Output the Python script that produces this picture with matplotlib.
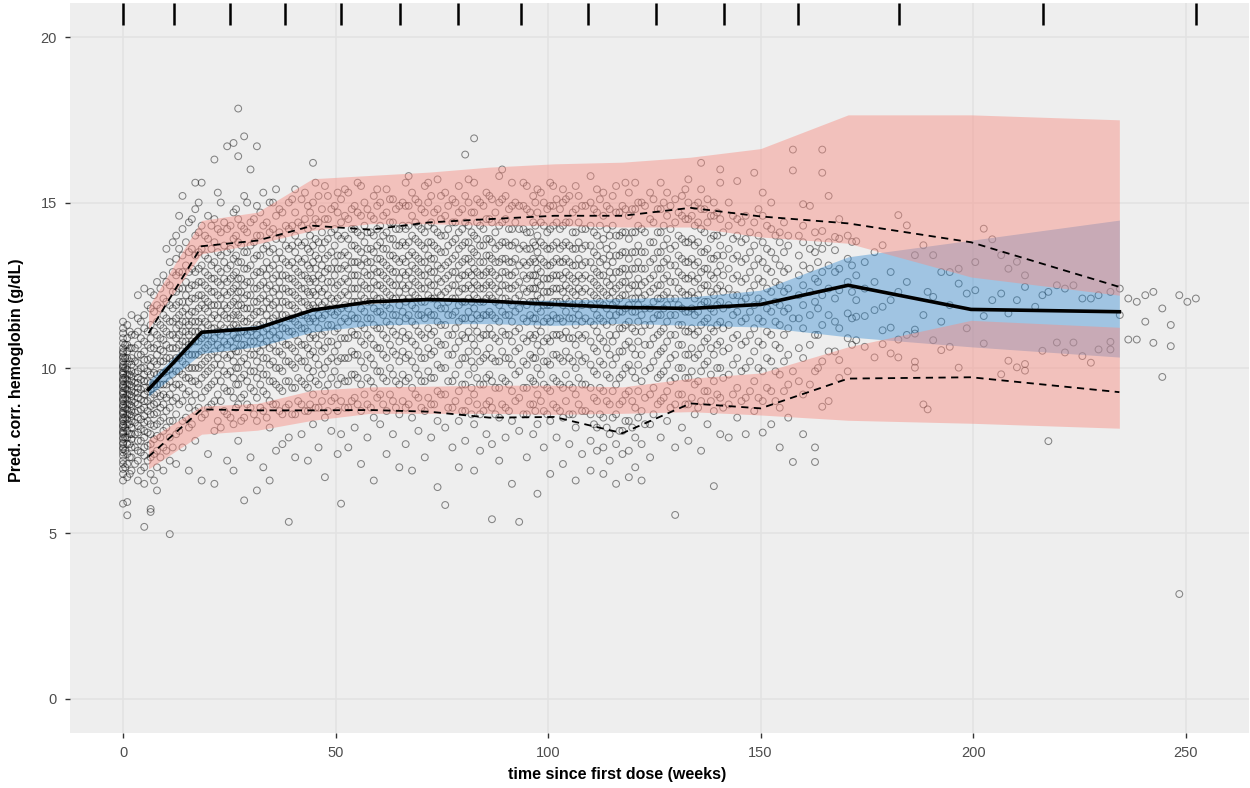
import numpy as np
import matplotlib.pyplot as plt
from matplotlib.transforms import blended_transform_factory

plt.rcParams['font.family'] = ['Liberation Sans', 'DejaVu Sans']

# bin boundaries (drawn as rug at the top) and bin centres
bin_edges = [0, 11.9, 25.1, 38.1, 51.2, 65.2, 78.9, 93.6, 109.4, 125.5,
             141.5, 158.7, 182.5, 216.5, 252.4]
bin_mid = [6.0, 18.5, 31.6, 44.6, 58.2, 72.0, 86.2, 101.5, 117.5, 133.5,
           150.0, 170.6, 199.5, 234.4]

# observed percentiles
obs_median = [9.35, 11.08, 11.2, 11.75, 12.0, 12.07, 12.02, 11.92, 11.83, 11.8,
              11.92, 12.5, 11.77, 11.7]
obs_p95 = [11.05, 13.68, 13.85, 14.3, 14.18, 14.4, 14.5, 14.6, 14.6, 14.84,
           14.58, 14.37, 13.8, 12.45]
obs_p5 = [7.32, 8.75, 8.72, 8.72, 8.73, 8.68, 8.5, 8.52, 8.03, 8.93,
          8.78, 9.68, 9.72, 9.27]

# simulated prediction intervals (CI of percentiles)
sim_p95_lo = [11.19, 13.45, 13.75, 14.16, 14.36, 14.36, 14.31, 14.31, 14.26, 14.26,
              13.96, 13.77, 12.75, 12.2]
sim_p95_hi = [11.85, 14.46, 14.71, 15.72, 15.82, 15.92, 16.07, 16.17, 16.22, 16.37,
              16.63, 17.65, 17.65, 17.5]
sim_med_lo = [9.15, 10.44, 10.64, 11.09, 11.29, 11.34, 11.34, 11.29, 11.35, 11.29,
              11.24, 10.94, 10.64, 10.33]
sim_med_hi = [9.6, 11.14, 11.29, 11.8, 11.94, 12.05, 12.05, 12.05, 12.1, 12.15,
              12.35, 13.36, 13.86, 14.47]
sim_p5_lo = [6.95, 8.0, 8.12, 8.42, 8.63, 8.63, 8.63, 8.6, 8.63, 8.68,
             8.58, 8.42, 8.33, 8.18]
sim_p5_hi = [7.85, 8.85, 8.93, 9.33, 9.43, 9.45, 9.48, 9.48, 9.43, 9.69,
             9.85, 10.64, 11.44, 11.23]

# observations: time (weeks) | hemoglobin values
obs_text = """
0.0 | 5.9 6.6 6.8 6.95 7.1 7.2 7.35 7.45 7.55 7.6 7.7 7.75 7.85 7.9 8.0 8.05 8.1 8.2 8.25 8.3 8.4 8.45 8.5 8.6 8.65 8.7 8.8 8.85 8.9 9.0 9.05 9.1 9.2 9.25 9.3 9.4 9.45 9.5 9.6 9.65 9.7 9.8 9.85 9.9 10.0 10.05 10.1 10.2 10.3 10.35 10.45 10.5 10.6 10.75 10.9 11.05 11.2 11.4
1.0 | 5.55 5.95 6.7 7.1 7.4 7.7 7.9 8.1 8.3 8.45 8.6 8.75 8.9 9.05 9.2 9.35 9.5 9.65 9.8 9.95 10.1 10.3 10.5 10.7 10.9 11.3
2.0 | 6.9 7.3 7.6 7.85 8.0 8.2 8.4 8.55 8.7 8.85 9.0 9.15 9.3 9.45 9.6 9.75 9.9 10.1 10.3 10.6 11.0 11.6
3.5 | 6.6 7.2 7.5 7.8 8.05 8.25 8.5 8.7 8.9 9.1 9.25 9.4 9.55 9.7 9.9 10.15 10.4 10.7 11.1 11.5 12.2
5.0 | 5.2 6.5 7.0 7.35 7.6 7.9 8.1 8.35 8.55 8.8 9.0 9.2 9.4 9.6 9.8 10.0 10.25 10.5 10.8 11.2 11.6 12.4
6.5 | 5.65 5.74 6.8 7.3 7.7 8.0 8.3 8.6 8.85 9.1 9.35 9.55 9.8 10.05 10.3 10.6 10.9 11.3 11.8 12.3
8.0 | 6.3 7.0 7.5 7.95 8.3 8.65 8.95 9.25 9.5 9.8 10.1 10.4 10.7 11.0 11.4 11.9 12.6
9.5 | 6.9 7.6 8.1 8.5 8.9 9.2 9.5 9.85 10.2 10.5 10.85 11.2 11.6 12.1 12.8
11.0 | 4.98 7.2 7.9 8.4 8.8 9.2 9.6 9.95 10.3 10.6 11.0 11.4 11.9 12.5 13.2
12.5 | 7.1 8.0 8.6 9.1 9.5 9.9 10.3 10.6 10.9 11.2 11.5 11.9 12.3 12.8 13.3 14.0
14.0 | 7.6 8.4 9.0 9.4 9.8 10.2 10.5 10.8 11.1 11.4 11.7 12.0 12.4 12.9 13.4 14.2 15.2
15.5 | 6.9 8.2 8.8 9.3 9.7 10.0 10.4 10.7 11.0 11.3 11.6 12.0 12.4 12.9 13.5 14.4
17.0 | 7.8 8.7 9.2 9.6 10.0 10.4 10.8 11.1 11.4 11.7 12.1 12.5 12.9 13.4 14.0 14.8 15.6
18.5 | 6.6 8.5 9.1 9.7 10.1 10.5 10.9 11.2 11.5 11.9 12.2 12.6 13.1 13.6 14.3 15.6
20.0 | 7.4 8.8 9.4 9.9 10.3 10.7 11.0 11.3 11.7 12.0 12.4 12.8 13.3 13.9 14.6
21.5 | 6.5 8.1 9.0 9.6 10.1 10.5 10.9 11.2 11.6 11.9 12.3 12.7 13.2 13.8 14.5 16.3
23.0 | 8.2 9.0 9.6 10.1 10.6 11.0 11.3 11.7 12.1 12.5 12.9 13.4 14.1 15.0
24.5 | 7.2 8.6 9.3 9.8 10.3 10.7 11.1 11.5 11.8 12.2 12.6 13.0 13.5 14.2 16.7
26.0 | 6.9 8.3 9.1 9.7 10.2 10.6 11.0 11.3 11.6 12.0 12.4 12.8 13.3 13.9 14.7 16.8
27.1 | 7.8 8.9 9.5 10.0 10.5 10.9 11.2 11.6 11.9 12.3 12.7 13.2 13.8 14.5 17.84 16.4
28.5 | 6.0 8.5 9.2 9.8 10.3 10.7 11.1 11.4 11.8 12.1 12.5 13.0 13.5 14.2 15.2 17.0
30.0 | 7.3 8.8 9.4 9.9 10.4 10.8 11.1 11.5 11.8 12.2 12.6 13.1 13.7 14.4 16.0
31.5 | 6.3 8.4 9.1 9.7 10.2 10.6 11.0 11.3 11.7 12.0 12.4 12.9 13.4 14.0 14.9 16.7
33.0 | 7.0 8.7 9.3 9.8 10.3 10.7 11.1 11.4 11.8 12.2 12.6 13.0 13.6 14.3 15.3
34.5 | 6.6 8.2 9.0 9.6 10.1 10.6 11.0 11.4 11.8 12.1 12.5 13.0 13.5 14.1 15.0
36.0 | 7.5 8.9 9.5 10.0 10.5 10.9 11.3 11.6 12.0 12.4 12.8 13.3 13.9 14.6 15.4
37.5 | 7.7 8.6 9.3 9.9 10.4 10.8 11.2 11.6 12.0 12.4 12.8 13.3 13.9 14.7
39.0 | 5.35 7.9 8.9 9.6 10.2 10.7 11.1 11.5 11.9 12.3 12.7 13.1 13.6 14.2 15.0
40.5 | 7.3 8.6 9.4 10.0 10.5 11.0 11.4 11.8 12.2 12.6 13.0 13.5 14.0 14.7 15.4
42.0 | 8.0 8.9 9.6 10.2 10.7 11.2 11.6 12.0 12.4 12.8 13.2 13.7 14.3 15.1
43.5 | 7.2 8.7 9.4 10.0 10.6 11.1 11.5 11.9 12.3 12.7 13.1 13.6 14.2 14.9
44.7 | 8.3 9.2 9.9 10.5 11.0 11.5 11.9 12.3 12.7 13.2 13.7 14.3 15.0 16.2
46.0 | 7.6 8.8 9.5 10.1 10.7 11.2 11.6 12.0 12.4 12.8 13.3 13.8 14.4 15.2
47.5 | 6.7 8.5 9.3 10.0 10.6 11.1 11.6 12.0 12.4 12.9 13.3 13.8 14.5 15.5
49.0 | 8.1 9.0 9.7 10.3 10.8 11.3 11.7 12.1 12.6 13.0 13.5 14.1 14.8
50.5 | 7.4 8.7 9.5 10.2 10.7 11.2 11.7 12.1 12.5 13.0 13.4 14.0 14.7 15.3
51.3 | 5.9 8.0 9.0 9.7 10.3 10.9 11.4 11.8 12.2 12.6 13.0 13.4 13.9 14.4 15.1
53.0 | 7.6 8.8 9.6 10.3 10.9 11.4 11.8 12.2 12.6 13.0 13.4 13.9 14.5 15.3
54.5 | 8.2 9.1 9.8 10.4 11.0 11.5 12.0 12.4 12.8 13.2 13.7 14.2 14.9
56.0 | 7.1 8.7 9.5 10.2 10.8 11.3 11.8 12.2 12.6 13.1 13.5 14.0 14.6 15.5
57.5 | 7.9 8.9 9.7 10.4 11.0 11.5 12.0 12.4 12.8 13.2 13.6 14.1 14.8
59.0 | 6.6 8.5 9.4 10.1 10.7 11.3 11.8 12.2 12.6 13.0 13.5 14.0 14.5 15.2
60.5 | 8.3 9.2 9.9 10.6 11.2 11.7 12.1 12.5 12.9 13.3 13.8 14.3 15.0
62.0 | 7.4 8.7 9.6 10.3 10.9 11.4 11.9 12.3 12.7 13.1 13.6 14.1 14.7 15.4
63.5 | 8.0 9.0 9.8 10.5 11.1 11.6 12.1 12.5 12.9 13.4 13.9 14.4 15.1
65.0 | 7.0 8.6 9.5 10.2 10.8 11.4 11.9 12.3 12.7 13.2 13.7 14.2 14.9
66.5 | 7.7 8.8 9.6 10.3 10.9 11.5 12.0 12.4 12.8 13.2 13.7 14.2 14.9 15.6
68.0 | 6.9 8.5 9.4 10.2 10.8 11.4 11.9 12.3 12.7 13.1 13.5 14.0 14.6 15.3
69.5 | 8.1 9.1 9.8 10.5 11.1 11.6 12.1 12.5 12.9 13.3 13.8 14.3 15.0
71.0 | 7.3 8.7 9.6 10.3 10.9 11.5 12.0 12.4 12.8 13.2 13.6 14.1 14.7 15.5
72.5 | 7.9 8.9 9.7 10.4 11.0 11.6 12.1 12.5 12.9 13.3 13.8 14.4 15.2
74.0 | 6.4 8.4 9.3 10.1 10.8 11.4 11.9 12.3 12.7 13.1 13.6 14.1 14.8 15.7
75.8 | 5.86 8.2 9.2 10.0 10.7 11.3 11.8 12.3 12.7 13.1 13.5 14.0 14.6 15.3
77.5 | 7.6 8.8 9.6 10.4 11.0 11.6 12.1 12.5 12.9 13.3 13.8 14.4 15.1
79.0 | 7.0 8.4 9.3 10.1 10.8 11.4 11.9 12.3 12.7 13.1 13.6 14.1 14.7 15.5
80.5 | 7.8 8.7 9.5 10.3 10.9 11.5 12.0 12.4 12.8 13.3 13.8 14.4 15.2 16.45
82.6 | 6.9 8.3 9.2 10.0 10.7 11.3 11.8 12.2 12.6 13.0 13.5 14.0 14.7 15.6 16.94
84.0 | 7.5 8.6 9.5 10.2 10.9 11.5 12.0 12.4 12.8 13.2 13.7 14.3 15.0
85.5 | 8.0 8.9 9.7 10.4 11.0 11.6 12.1 12.5 12.9 13.4 13.9 14.5 15.3
86.8 | 5.43 7.7 8.8 9.6 10.3 11.0 11.6 12.1 12.5 12.9 13.3 13.8 14.4 15.1
88.5 | 7.2 8.5 9.4 10.2 10.8 11.4 11.9 12.3 12.7 13.2 13.7 14.3 15.0 15.8
90.0 | 7.9 8.8 9.6 10.3 11.0 11.6 12.1 12.5 12.9 13.3 13.8 14.5 15.2
91.5 | 6.5 8.4 9.3 10.1 10.8 11.4 11.9 12.4 12.8 13.2 13.7 14.2 14.9 15.6
93.2 | 5.35 8.1 9.1 9.9 10.6 11.2 11.8 12.2 12.6 13.1 13.6 14.2 14.9
95.0 | 7.3 8.6 9.4 10.1 10.8 11.4 11.9 12.3 12.7 13.1 13.6 14.1 14.8 15.5
96.5 | 8.0 8.9 9.6 10.3 10.9 11.5 12.0 12.4 12.8 13.3 13.8 14.4 15.2
97.5 | 6.2 8.3 9.2 10.0 10.7 11.3 11.8 12.2 12.6 13.0 13.5 14.0 14.7 15.4
99.0 | 7.6 8.7 9.5 10.2 10.8 11.4 11.9 12.3 12.7 13.2 13.7 14.3 15.0
100.5 | 6.8 8.4 9.3 10.1 10.8 11.4 11.9 12.3 12.7 13.1 13.6 14.2 14.9 15.6
102.0 | 7.9 8.8 9.6 10.4 11.0 11.5 12.0 12.4 12.8 13.3 13.8 14.4 15.1
103.5 | 7.1 8.5 9.4 10.2 10.9 11.4 11.9 12.3 12.7 13.2 13.7 14.3 15.0 15.4
105.0 | 7.7 8.6 9.5 10.3 10.9 11.5 12.0 12.4 12.8 13.2 13.7 14.4 15.2
106.5 | 6.6 8.2 9.2 10.0 10.7 11.3 11.8 12.2 12.6 13.1 13.6 14.1 14.8 15.5
108.0 | 7.4 8.7 9.5 10.2 10.9 11.4 11.9 12.3 12.7 13.1 13.6 14.2 14.9
110.0 | 6.9 7.8 8.6 9.4 10.1 10.8 11.4 11.9 12.3 12.7 13.2 13.7 14.3 15.0 15.8
111.5 | 7.5 8.2 9.0 9.8 10.5 11.1 11.6 12.1 12.5 12.9 13.4 14.0 14.7 15.4
113.0 | 6.8 7.6 8.5 9.3 10.1 10.8 11.4 11.9 12.3 12.8 13.3 13.9 14.6 15.3
114.5 | 7.2 8.0 8.9 9.7 10.4 11.0 11.6 12.1 12.5 12.9 13.4 14.0 14.8
116.0 | 6.5 7.7 8.6 9.5 10.3 11.0 11.6 12.0 12.4 12.9 13.4 14.0 14.7 15.5
117.5 | 7.4 8.1 9.0 9.8 10.5 11.2 11.7 12.2 12.6 13.0 13.5 14.1 14.9
119.0 | 6.7 7.5 8.4 9.3 10.1 10.8 11.4 11.9 12.4 12.8 13.3 13.9 14.6 15.3
120.5 | 7.0 7.9 8.8 9.7 10.4 11.1 11.7 12.1 12.5 13.0 13.5 14.1 14.8 15.6
122.0 | 6.6 7.7 8.7 9.6 10.4 11.1 11.6 12.1 12.5 13.0 13.5 14.2 15.0
124.0 | 7.3 8.3 9.2 10.0 10.7 11.3 11.8 12.3 12.7 13.2 13.8 14.5 15.3
126.5 | 7.9 9.0 9.8 10.5 11.1 11.6 12.1 12.5 13.0 13.5 14.1 14.8 15.6
128.0 | 8.4 9.3 10.1 10.8 11.4 11.9 12.3 12.8 13.3 13.9 14.6 15.3
129.9 | 5.56 7.6 8.9 9.7 10.4 11.0 11.6 12.1 12.6 13.1 13.7 14.4 15.1
131.5 | 8.2 9.2 10.0 10.7 11.3 11.8 12.3 12.8 13.3 13.9 14.6 15.2
133.0 | 7.8 8.9 9.7 10.4 11.1 11.7 12.2 12.7 13.2 13.8 14.5 15.0 15.7
134.5 | 8.6 9.5 10.3 11.0 11.6 12.1 12.6 13.1 13.7 14.3 14.9
136.0 | 7.5 9.0 9.9 10.6 11.3 11.9 12.4 12.9 13.5 14.2 14.8 15.4 16.2
137.5 | 8.3 9.3 10.2 10.9 11.5 12.0 12.5 13.0 13.6 14.4 15.1
139.0 | 6.43 8.7 9.6 10.4 11.1 11.7 12.2 12.7 13.3 14.0 14.6 15.0
140.5 | 8.0 9.1 10.0 10.8 11.4 12.0 12.5 13.1 13.7 14.5 15.6 16.0
142.5 | 7.9 8.9 9.8 10.6 11.3 11.9 12.4 13.0 13.6 14.3 15.0
144.5 | 8.5 9.4 10.3 11.0 11.7 12.2 12.8 13.4 14.0 14.5 15.65
146.5 | 8.0 9.1 10.0 10.8 11.5 12.1 12.7 13.3 13.9 14.6
148.5 | 8.7 9.6 10.5 11.2 11.9 12.5 13.1 13.7 14.4 15.9
150.5 | 8.05 9.0 9.9 10.7 11.4 12.0 12.6 13.2 13.8 14.6 15.3
152.5 | 8.3 9.3 10.2 11.0 11.7 12.3 12.9 13.5 14.2 15.0
154.5 | 7.6 8.8 9.8 10.6 11.3 11.9 12.5 13.1 13.8 14.1
156.5 | 8.5 9.5 10.4 11.2 11.8 12.4 13.0 13.7 14.0
157.6 | 7.16 9.9 11.5 16.6 15.97
160.0 | 8.0 9.2 10.3 11.2 11.9 12.5 13.1 13.8 14.3 14.95
161.6 | 9.5 10.7 11.6 12.3 13.0 13.6 14.9
162.8 | 7.16 7.6 9.9 11.0 12.0 12.7 13.5 14.1
164.5 | 8.83 10.2 11.3 12.2 12.9 13.6 14.14 16.6 15.9
166.0 | 9.0 10.5 11.6 12.4 13.1 13.8 15.2
168.5 | 9.7 10.24 11.2 12.35 13.0 13.91 14.5
170.5 | 9.9 10.9 11.65 12.6 13.3 14.0
172.5 | 10.84 11.55 12.05 12.8 13.83
174.5 | 10.64 11.57 12.4 13.2
176.8 | 10.32 11.75 12.6 13.5
178.7 | 10.72 11.14 11.85 13.71
180.6 | 10.44 11.22 12.05 12.9
182.4 | 10.32 10.86 12.3 14.62
184.4 | 11.0 12.6 14.31
186.3 | 10.19 10.01 11.04 11.16 13.41
188.3 | 8.9 11.6 13.71
189.3 | 8.75 12.3
190.6 | 10.84 12.15 13.41
192.5 | 10.54 11.4 12.9
194.5 | 10.64 11.9 12.9
196.6 | 10.01 12.55 13.0
198.5 | 11.2 12.25
200.5 | 12.35 13.2
202.5 | 10.74 11.57 14.21
204.5 | 12.05 13.89
206.6 | 9.81 12.25 13.41
208.3 | 10.22 11.65 13.0
210.3 | 10.02 12.05 13.21
212.2 | 10.12 9.92 12.8 12.45
214.6 | 11.85
216.3 | 10.52 12.2
217.7 | 7.79 12.3
219.7 | 10.77 12.5
221.6 | 10.47 12.4
223.6 | 10.77 12.5
225.7 | 10.36 12.1
227.7 | 10.16 12.1
229.5 | 10.56 12.2
232.3 | 10.56 10.79 12.3
234.5 | 11.6 12.4
236.5 | 10.86 12.1
238.5 | 10.86 12.0
240.5 | 11.4 12.2
242.4 | 10.76 12.3
244.5 | 9.73 11.8
246.5 | 10.66 11.3
248.5 | 3.17 12.2
250.4 | 12.0
252.4 | 12.1
"""

# denser core of the cloud, between the visits above
obs_text_core = """
0.5 | 7.0 7.5 7.9 8.2 8.5 8.8 9.1 9.4 9.7 10.0 10.3 10.7
1.6 | 6.8 7.3 7.7 8.0 8.3 8.6 8.9 9.2 9.5 9.8 10.2 10.6 11.1
2.8 | 7.1 7.6 8.0 8.35 8.65 8.95 9.25 9.55 9.85 10.2 10.6 11.0
4.2 | 6.9 7.45 7.8 8.15 8.45 8.75 9.05 9.35 9.65 10.0 10.4 10.9 11.4
5.8 | 7.2 7.65 8.05 8.4 8.7 9.0 9.3 9.6 9.9 10.25 10.7 11.1 11.9
7.3 | 6.6 7.4 7.85 8.25 8.6 8.9 9.2 9.5 9.85 10.2 10.6 11.1 11.7 12.2
8.8 | 7.3 7.9 8.4 8.8 9.15 9.5 9.85 10.2 10.55 10.9 11.3 11.8 12.4
10.2 | 7.5 8.2 8.7 9.1 9.5 9.9 10.3 10.7 11.1 11.5 12.0 12.6 13.6
11.7 | 7.6 8.4 9.0 9.4 9.8 10.2 10.6 11.0 11.4 11.8 12.3 12.9 13.8
13.2 | 8.1 8.9 9.5 9.9 10.3 10.7 11.0 11.3 11.6 12.0 12.4 12.9 13.6 14.6
14.8 | 8.5 9.2 9.7 10.1 10.5 10.8 11.1 11.4 11.8 12.2 12.6 13.1 13.8
16.2 | 8.3 9.0 9.6 10.0 10.4 10.8 11.1 11.4 11.7 12.1 12.5 13.0 13.6 14.5
17.8 | 8.8 9.5 10.0 10.4 10.8 11.1 11.4 11.8 12.2 12.6 13.0 13.5 14.1 15.0
19.3 | 8.6 9.3 9.8 10.2 10.6 11.0 11.4 11.8 12.1 12.5 12.9 13.4 14.0
20.8 | 8.9 9.5 10.0 10.4 10.8 11.2 11.5 11.9 12.3 12.7 13.1 13.6 14.3
22.3 | 8.4 9.2 9.8 10.3 10.7 11.1 11.5 11.9 12.2 12.6 13.0 13.5 14.2 15.3
23.8 | 8.7 9.4 9.9 10.4 10.8 11.2 11.6 11.9 12.3 12.7 13.2 13.7 14.4
25.3 | 8.5 9.3 9.9 10.4 10.8 11.2 11.5 11.9 12.3 12.7 13.1 13.6 14.3
26.6 | 8.8 9.5 10.0 10.5 10.9 11.3 11.7 12.1 12.5 12.9 13.4 14.0 14.8
27.8 | 8.4 9.1 9.7 10.2 10.7 11.1 11.5 11.9 12.3 12.7 13.2 13.7 14.3
29.2 | 8.9 9.6 10.1 10.6 11.0 11.4 11.8 12.2 12.6 13.0 13.5 14.1 15.0
30.8 | 8.6 9.3 9.9 10.4 10.8 11.2 11.6 12.0 12.4 12.8 13.3 13.8 14.5
32.3 | 8.8 9.5 10.0 10.5 10.9 11.3 11.7 12.1 12.5 12.9 13.4 14.0 14.7
33.8 | 8.5 9.2 9.8 10.3 10.8 11.2 11.6 12.0 12.4 12.8 13.2 13.7 14.4
35.3 | 8.9 9.6 10.2 10.7 11.1 11.5 11.9 12.3 12.7 13.1 13.6 14.2 15.0
36.8 | 8.7 9.4 10.0 10.5 11.0 11.4 11.8 12.2 12.6 13.0 13.5 14.1 14.8
38.3 | 8.8 9.6 10.2 10.7 11.2 11.6 12.0 12.4 12.8 13.2 13.7 14.3
39.8 | 8.6 9.4 10.1 10.6 11.1 11.5 11.9 12.3 12.7 13.2 13.7 14.3 15.1
41.2 | 9.0 9.7 10.3 10.8 11.3 11.7 12.1 12.5 12.9 13.3 13.8 14.4
42.8 | 8.7 9.5 10.2 10.7 11.2 11.6 12.0 12.4 12.8 13.3 13.8 14.5 15.3
44.0 | 8.9 9.7 10.4 10.9 11.4 11.8 12.2 12.6 13.0 13.5 14.0 14.7
45.3 | 8.8 9.6 10.3 10.9 11.4 11.8 12.2 12.6 13.0 13.4 13.9 14.5 15.6
46.8 | 9.0 9.8 10.5 11.0 11.5 11.9 12.3 12.7 13.1 13.6 14.1 14.8
48.2 | 8.7 9.5 10.2 10.8 11.3 11.8 12.2 12.6 13.0 13.4 13.9 14.5 15.2
49.8 | 9.1 9.9 10.5 11.1 11.6 12.0 12.4 12.8 13.2 13.7 14.2 14.9
52.2 | 8.8 9.6 10.3 10.9 11.5 11.9 12.3 12.7 13.1 13.5 14.0 14.6 15.4
53.8 | 9.0 9.8 10.5 11.1 11.6 12.0 12.4 12.8 13.2 13.7 14.2 14.8
55.2 | 8.9 9.7 10.4 11.0 11.5 12.0 12.4 12.8 13.2 13.6 14.1 14.7 15.6
56.8 | 9.2 10.0 10.7 11.2 11.7 12.1 12.5 12.9 13.3 13.8 14.3 15.0
58.3 | 8.8 9.6 10.3 10.9 11.5 12.0 12.4 12.8 13.2 13.6 14.1 14.6
59.8 | 9.1 9.9 10.6 11.2 11.7 12.1 12.5 12.9 13.3 13.7 14.2 14.9 15.4
61.2 | 8.9 9.7 10.4 11.0 11.6 12.0 12.4 12.8 13.2 13.6 14.0 14.6
62.8 | 9.2 10.0 10.7 11.3 11.8 12.2 12.6 13.0 13.4 13.9 14.4 15.1
64.2 | 8.8 9.6 10.4 11.0 11.6 12.1 12.5 12.9 13.3 13.7 14.2 14.8
65.8 | 9.0 9.8 10.5 11.1 11.7 12.1 12.5 12.9 13.3 13.8 14.3 15.0
67.2 | 8.9 9.7 10.4 11.0 11.6 12.1 12.5 12.9 13.4 13.8 14.3 14.9 15.8
68.8 | 9.2 10.0 10.7 11.3 11.8 12.2 12.6 13.0 13.4 13.9 14.4 15.1
70.2 | 8.8 9.6 10.3 11.0 11.6 12.0 12.4 12.8 13.2 13.7 14.2 14.8
71.8 | 9.1 9.9 10.6 11.2 11.7 12.2 12.6 13.0 13.4 13.8 14.3 15.0 15.6
73.2 | 8.9 9.7 10.5 11.1 11.6 12.1 12.5 12.9 13.3 13.7 14.2 14.7
74.8 | 9.2 10.0 10.7 11.3 11.8 12.2 12.6 13.0 13.5 14.0 14.5 15.2
76.5 | 8.8 9.6 10.4 11.0 11.6 12.0 12.4 12.8 13.2 13.7 14.2 14.9
78.2 | 9.0 9.8 10.6 11.2 11.7 12.1 12.5 12.9 13.4 13.9 14.4 15.0
79.8 | 8.7 9.5 10.3 11.0 11.5 12.0 12.4 12.8 13.2 13.7 14.2 14.8
81.3 | 9.0 9.8 10.5 11.1 11.7 12.1 12.5 12.9 13.3 13.8 14.3 15.0 15.7
82.0 | 8.6 9.4 10.2 10.9 11.5 12.0 12.4 12.8 13.2 13.6 14.1 14.7
83.3 | 8.9 9.7 10.5 11.1 11.6 12.1 12.5 12.9 13.4 13.9 14.4 15.1
84.8 | 8.7 9.5 10.3 11.0 11.6 12.0 12.4 12.8 13.2 13.7 14.2 14.9
86.2 | 9.0 9.8 10.6 11.2 11.7 12.2 12.6 13.0 13.4 13.9 14.5 15.2
87.6 | 8.6 9.4 10.2 10.9 11.5 12.0 12.4 12.8 13.2 13.6 14.1 14.7
89.2 | 8.9 9.7 10.5 11.1 11.7 12.1 12.5 12.9 13.3 13.8 14.4 15.1 16.0
90.8 | 8.7 9.5 10.3 11.0 11.6 12.0 12.4 12.8 13.2 13.7 14.2 14.8
92.3 | 9.0 9.8 10.5 11.1 11.7 12.1 12.5 12.9 13.3 13.8 14.4 15.0
94.2 | 8.6 9.4 10.2 10.9 11.5 12.0 12.4 12.8 13.2 13.7 14.2 14.9 15.6
95.8 | 8.9 9.7 10.4 11.0 11.6 12.0 12.4 12.8 13.2 13.6 14.1 14.7
97.0 | 8.7 9.5 10.3 11.0 11.5 12.0 12.4 12.8 13.2 13.7 14.3 15.0
98.3 | 9.0 9.8 10.5 11.1 11.7 12.1 12.5 12.9 13.3 13.8 14.4 15.3
99.8 | 8.6 9.4 10.2 10.9 11.5 11.9 12.3 12.7 13.1 13.6 14.1 14.8
101.2 | 8.9 9.7 10.4 11.0 11.6 12.0 12.4 12.8 13.2 13.7 14.3 14.9 15.5
102.8 | 8.7 9.5 10.3 11.0 11.5 12.0 12.4 12.8 13.2 13.6 14.2 14.8
104.2 | 9.0 9.8 10.5 11.1 11.7 12.1 12.5 12.9 13.3 13.8 14.4 15.1
105.8 | 8.6 9.4 10.2 10.9 11.5 11.9 12.3 12.7 13.1 13.6 14.1 14.7
107.2 | 8.9 9.7 10.4 11.0 11.6 12.0 12.4 12.8 13.3 13.8 14.4 15.2
108.8 | 8.7 9.5 10.3 11.0 11.5 12.0 12.4 12.8 13.2 13.7 14.2 14.9
110.8 | 8.3 9.1 9.9 10.6 11.3 11.8 12.2 12.6 13.0 13.5 14.1 14.8
112.2 | 8.6 9.4 10.2 10.9 11.5 12.0 12.4 12.8 13.2 13.7 14.3 15.1
113.8 | 8.2 9.0 9.8 10.6 11.3 11.8 12.2 12.6 13.1 13.6 14.2 14.9
115.2 | 8.5 9.3 10.1 10.8 11.4 11.9 12.3 12.7 13.2 13.7 14.3 15.2
116.8 | 8.1 8.9 9.7 10.5 11.2 11.7 12.1 12.5 12.9 13.4 14.0 14.7
118.2 | 8.4 9.2 10.0 10.7 11.3 11.8 12.2 12.6 13.0 13.5 14.1 14.8 15.6
119.8 | 8.2 9.0 9.9 10.6 11.2 11.7 12.1 12.5 13.0 13.5 14.1 14.8
121.2 | 8.5 9.3 10.1 10.8 11.4 11.9 12.3 12.7 13.2 13.7 14.3 15.0
122.8 | 8.3 9.1 9.9 10.7 11.3 11.8 12.2 12.6 13.0 13.5 14.1 14.9
124.8 | 8.6 9.4 10.2 10.9 11.5 12.0 12.4 12.8 13.3 13.8 14.4 15.1
125.8 | 8.9 9.7 10.4 11.0 11.6 12.1 12.5 13.0 13.5 14.1 14.8
127.2 | 9.1 9.9 10.6 11.2 11.8 12.2 12.7 13.2 13.7 14.3 15.0
128.8 | 8.8 9.6 10.3 11.0 11.6 12.1 12.6 13.1 13.6 14.2 14.9
130.7 | 9.2 10.0 10.7 11.3 11.9 12.4 12.9 13.4 14.0 14.7
132.3 | 8.9 9.7 10.4 11.1 11.7 12.2 12.7 13.2 13.8 14.5 15.4
133.8 | 9.1 9.9 10.6 11.2 11.8 12.3 12.8 13.3 13.9 14.6
135.3 | 8.8 9.6 10.4 11.1 11.7 12.2 12.7 13.2 13.8 14.4 15.0
136.8 | 9.3 10.1 10.8 11.4 12.0 12.5 13.0 13.5 14.1 14.8
138.3 | 9.0 9.8 10.6 11.2 11.8 12.3 12.8 13.3 13.9 14.6
139.8 | 9.2 10.0 10.7 11.3 11.9 12.4 12.9 13.4 14.0 14.7
141.2 | 8.8 9.7 10.5 11.2 11.8 12.3 12.8 13.4 14.1
143.5 | 9.2 10.1 10.9 11.6 12.2 12.7 13.3 13.9 14.6
145.5 | 9.0 9.9 10.7 11.4 12.0 12.6 13.2 13.8 14.4
147.5 | 9.3 10.2 11.0 11.7 12.3 12.9 13.5 14.1
149.5 | 9.1 10.0 10.8 11.5 12.1 12.7 13.3 14.0 14.8
151.5 | 9.4 10.3 11.1 11.8 12.4 13.0 13.6 14.3
153.5 | 9.0 9.9 10.7 11.4 12.0 12.6 13.3 14.0
155.5 | 9.3 10.2 11.0 11.7 12.3 12.9 13.5 14.4
159.0 | 9.6 10.6 11.5 12.2 12.8 13.4 14.0
163.5 | 10.0 11.0 11.8 12.6 13.2 13.8
167.5 | 10.5 11.4 12.1 12.9 13.56 13.96
171.5 | 10.7 11.5 12.3 13.1 13.81
"""

obs_t, obs_y = [], []
for block in (obs_text, obs_text_core):
    for line in block.strip().splitlines():
        t, ys = line.split('|')
        for y in ys.split():
            obs_t.append(float(t))
            obs_y.append(float(y))

fig = plt.figure(figsize=(12.5, 7.88), dpi=100)
ax = fig.add_axes([70 / 1250, 55 / 788, 1179 / 1250, 730 / 788])
ax.set_facecolor('#EEEEEE')
for s in ax.spines.values():
    s.set_visible(False)
ax.grid(True, color='#E2E2E2', lw=1.1)
ax.set_axisbelow(True)

ax.scatter(obs_t, obs_y, s=24, facecolors='none', edgecolors=(0, 0, 0, 0.45),
           linewidths=0.75, zorder=2)

# median CI (blue) then percentile CIs (red) on top
ax.fill_between(bin_mid, sim_med_lo, sim_med_hi, color='#2B87D0', alpha=0.4, lw=0, zorder=3)
ax.fill_between(bin_mid, sim_p95_lo, sim_p95_hi, color='#F98C81', alpha=0.45, lw=0, zorder=3)
ax.fill_between(bin_mid, sim_p5_lo, sim_p5_hi, color='#F98C81', alpha=0.45, lw=0, zorder=3)

ax.plot(bin_mid, obs_median, color='black', lw=2.6, zorder=4)
ax.plot(bin_mid, obs_p95, color='black', lw=1.3, ls=(0, (4, 3)), zorder=4)
ax.plot(bin_mid, obs_p5, color='black', lw=1.3, ls=(0, (4, 3)), zorder=4)

trans = blended_transform_factory(ax.transData, ax.transAxes)
ax.vlines(bin_edges, 0.97, 1.0, transform=trans, color='black', lw=1.8, zorder=5)

ax.set_xlim(-12.47, 264.9)
ax.set_ylim(-1.03, 21.03)
ax.set_xticks([0, 50, 100, 150, 200, 250])
ax.set_yticks([0, 5, 10, 15, 20])
ax.tick_params(colors='#333333', labelcolor='#4D4D4D', labelsize=10.5,
               length=3.5, width=1, pad=6)

fig.text(617 / 1250, 1 - 775 / 788, 'time since first dose (weeks)',
         ha='center', va='center', fontsize=11.5, fontweight='bold')
fig.text(17 / 1250, 1 - 370 / 788, 'Pred. corr. hemoglobin (g/dL)',
         ha='center', va='center', rotation=90, fontsize=11.5, fontweight='bold')

fig.savefig('out.png', dpi=100)
